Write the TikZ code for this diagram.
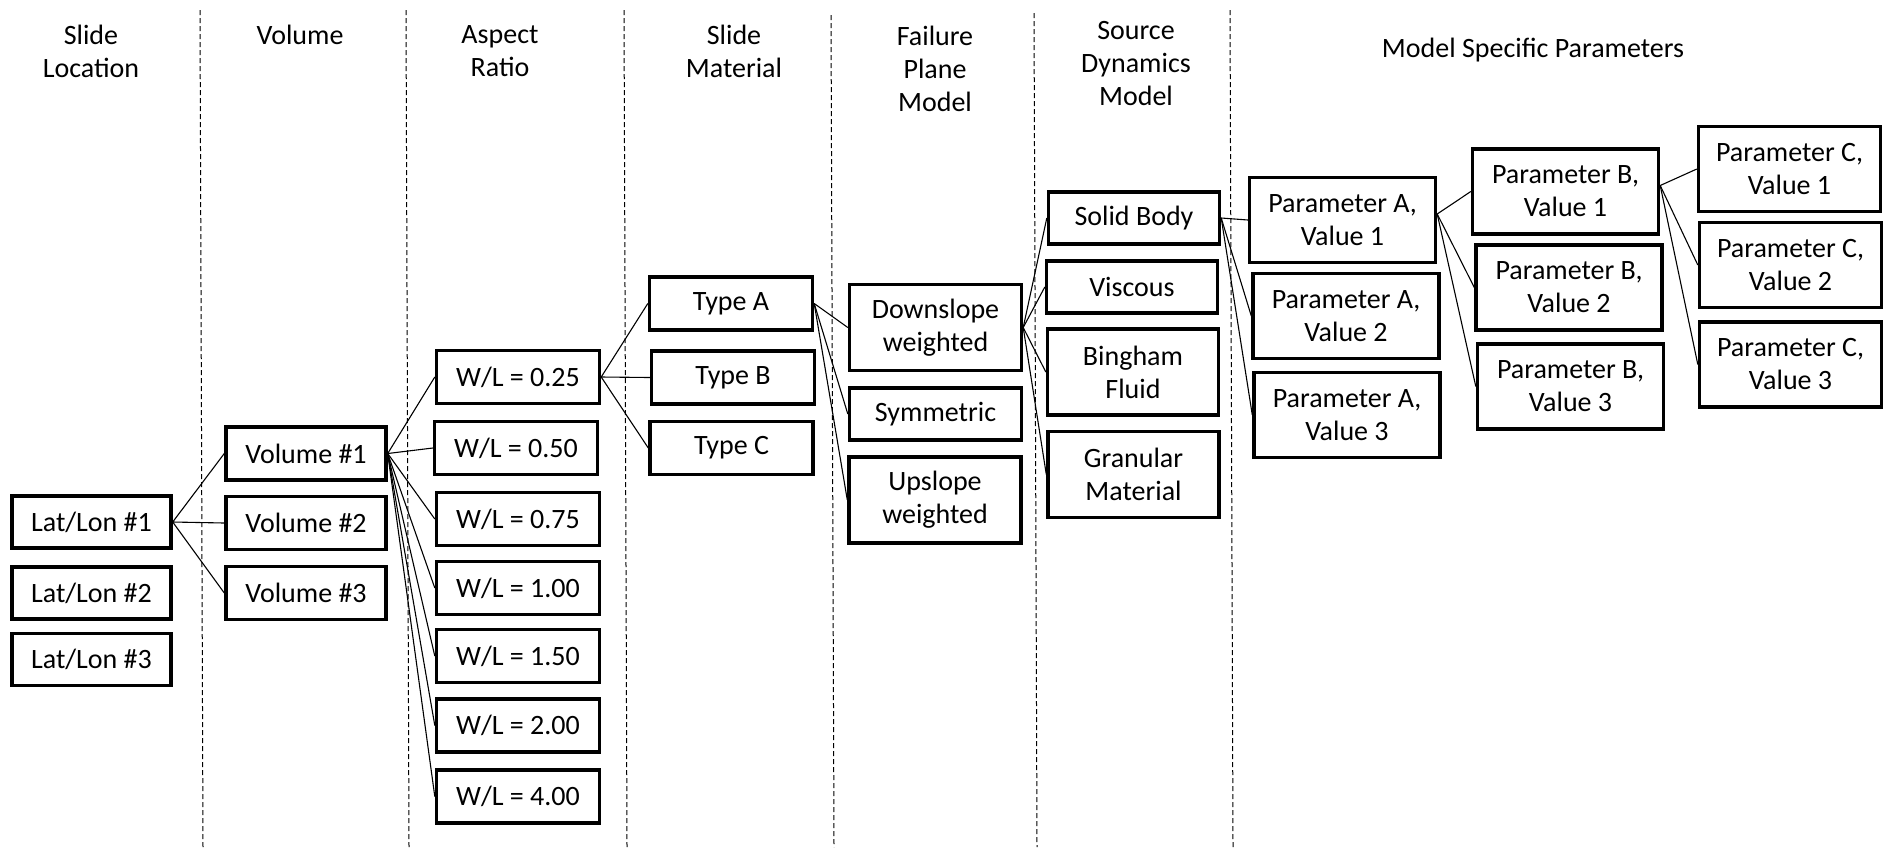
\documentclass[tikz,border=0pt]{standalone}
\usepackage{fontspec}
\setmainfont{Carlito}
\begin{document}
\begin{tikzpicture}[x=0.5pt,y=-0.5pt,
  bx/.style 2 args={draw, line width=1.7pt, minimum width=#1*0.5pt, minimum height=#2*0.5pt, inner sep=0pt, align=center, font=\fontsize{14}{16.5}\selectfont},
  hd/.style={align=center, font=\fontsize{14}{16.5}\selectfont, inner sep=0pt},
  ln/.style={line width=0.55pt},
  sep/.style={line width=0.5pt, dash pattern=on 2.5pt off 1.5pt}]
\useasboundingbox (0,0) rectangle (1883,847);

% separators
\draw[sep] (200,10) -- (203,847);
\draw[sep] (406,10) -- (409,847);
\draw[sep] (624,10) -- (627,847);
\draw[sep] (831,15) -- (834,847);
\draw[sep] (1034,13) -- (1037,847);
\draw[sep] (1230,10) -- (1233,847);

% headers
\node[hd] (h1) at (91,51.5) {Slide\\Location};
\node[hd] (h2) at (300,35) {Volume};
\node[hd] (h3) at (500,51.5) {Aspect\\Ratio};
\node[hd] (h4) at (734,51.5) {Slide\\Material};
\node[hd] (h5) at (935,68.5) {Failure\\Plane\\Model};
\node[hd] (h6) at (1136,63.5) {Source\\Dynamics\\Model};
\node[hd] (h7) at (1533,50) {Model Specific Parameters};

% column 1
\node[bx={159}{52}] (ll1) at (91.5,522) {Lat/Lon \#1};
\node[bx={159}{52}] (ll2) at (91.5,593) {Lat/Lon \#2};
\node[bx={159}{52}] (ll3) at (91.5,659.5) {Lat/Lon \#3};
% column 2
\node[bx={160}{53}] (v1) at (306,453.5) {Volume \#1};
\node[bx={160}{53}] (v2) at (306,523) {Volume \#2};
\node[bx={160}{53}] (v3) at (306,593) {Volume \#3};
% column 3
\node[bx={163}{53}] (w1) at (518,377) {W/L = 0.25};
\node[bx={163}{53}] (w2) at (516,448) {W/L = 0.50};
\node[bx={163}{53}] (w3) at (518,519) {W/L = 0.75};
\node[bx={163}{53}] (w4) at (518,588) {W/L = 1.00};
\node[bx={163}{53}] (w5) at (518,656) {W/L = 1.50};
\node[bx={163}{53}] (w6) at (518,725.5) {W/L = 2.00};
\node[bx={163}{53}] (w7) at (518,796.5) {W/L = 4.00};
% column 4
\node[bx={163}{53}] (ta) at (731,303.5) {Type A};
\node[bx={163}{53}] (tb) at (733,377.5) {Type B};
\node[bx={163}{53}] (tc) at (731.5,448) {Type C};
% column 5
\node[bx={172}{86}] (fd) at (935.5,327.5) {Downslope\\weighted};
\node[bx={172}{52}] (fs) at (935.5,414) {Symmetric};
\node[bx={172}{86}] (fu) at (935,500) {Upslope\\weighted};
% column 6
\node[bx={171}{52}] (sd1) at (1134,218) {Solid Body};
\node[bx={171}{52}] (sd2) at (1132,287) {Viscous};
\node[bx={171}{86}] (sd3) at (1133,372) {Bingham\\Fluid};
\node[bx={171}{86}] (sd4) at (1133.5,474.5) {Granular\\Material};
% parameters A
\node[bx={186}{85}] (pa1) at (1342.5,220) {Parameter A,\\Value 1};
\node[bx={186}{85}] (pa2) at (1346,316) {Parameter A,\\Value 2};
\node[bx={186}{85}] (pa3) at (1347,415) {Parameter A,\\Value 3};
% parameters B
\node[bx={186}{85}] (pb1) at (1565.5,191.5) {Parameter B,\\Value 1};
\node[bx={186}{85}] (pb2) at (1569,287.5) {Parameter B,\\Value 2};
\node[bx={186}{85}] (pb3) at (1570.5,386.5) {Parameter B,\\Value 3};
% parameters C
\node[bx={182}{85}] (pc1) at (1789.5,169) {Parameter C,\\Value 1};
\node[bx={182}{85}] (pc2) at (1790.5,265) {Parameter C,\\Value 2};
\node[bx={182}{85}] (pc3) at (1790.5,364.5) {Parameter C,\\Value 3};

% connectors
\foreach \t in {v1,v2,v3} \draw[ln] (ll1.east) -- (\t.west);
\foreach \t in {w1,w2,w3,w4,w5,w6,w7} \draw[ln] (v1.east) -- (\t.west);
\foreach \t in {ta,tb,tc} \draw[ln] (w1.east) -- (\t.west);
\foreach \t in {fd,fs,fu} \draw[ln] (ta.east) -- (\t.west);
\foreach \t in {sd1,sd2,sd3,sd4} \draw[ln] (fd.east) -- (\t.west);
\foreach \t in {pa1,pa2,pa3} \draw[ln] (sd1.east) -- (\t.west);
\foreach \t in {pb1,pb2,pb3} \draw[ln] ([yshift=6*0.5pt]pa1.east) -- (\t.west);
\foreach \t in {pc1,pc2,pc3} \draw[ln] ([yshift=6*0.5pt]pb1.east) -- (\t.west);
\end{tikzpicture}
\end{document}
